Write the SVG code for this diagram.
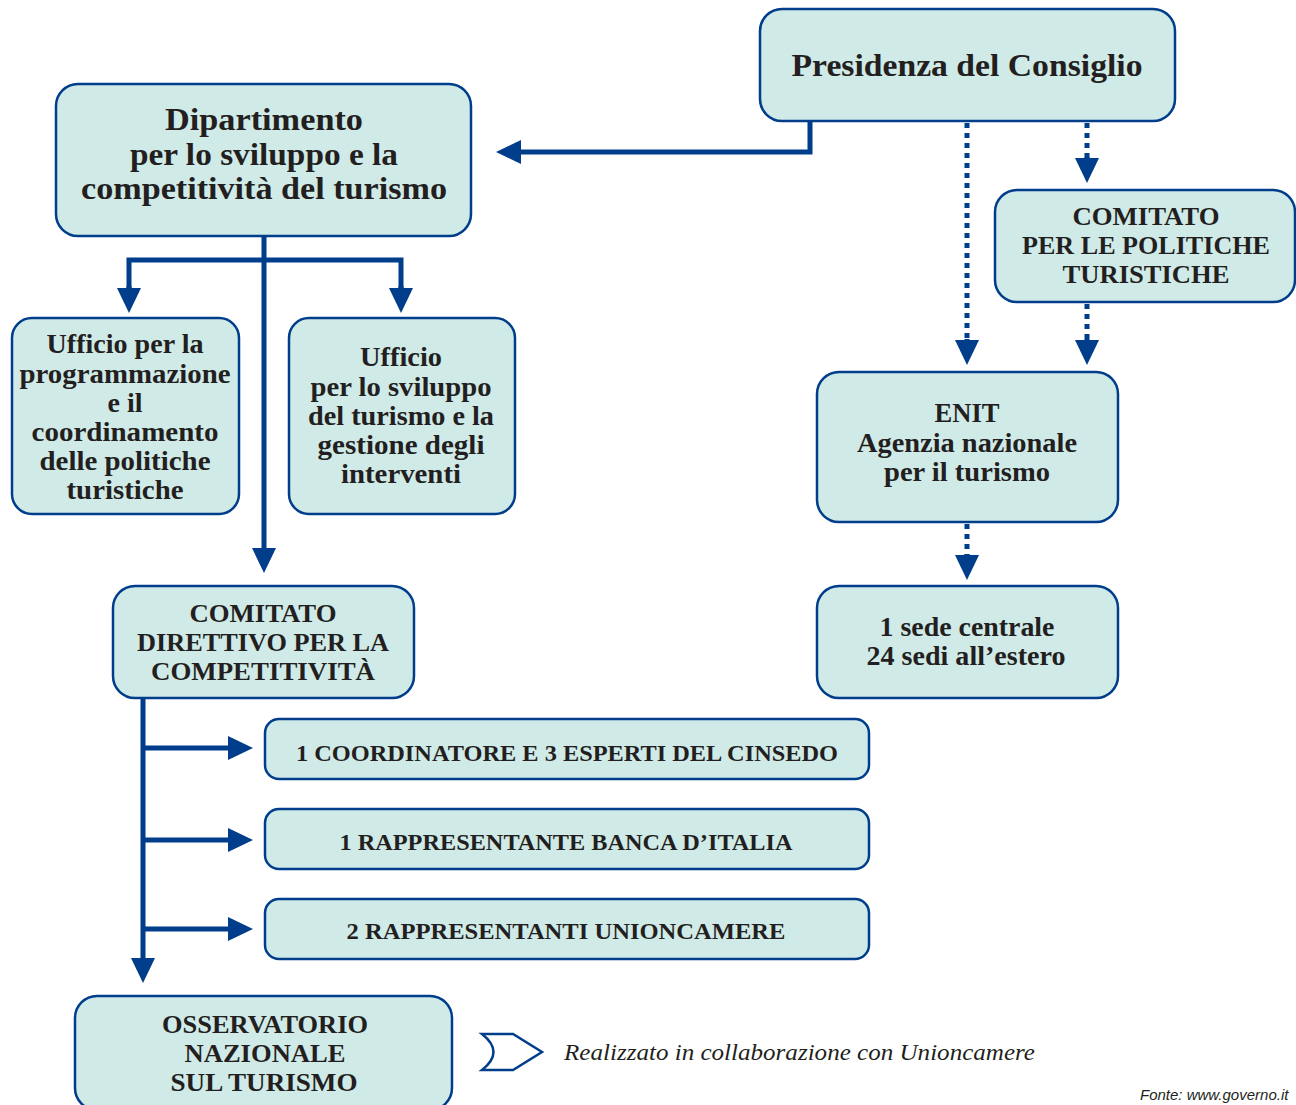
<svg xmlns="http://www.w3.org/2000/svg" width="1296" height="1105" viewBox="0 0 1296 1105">
<style>
.box{fill:#d0eae8;stroke:#003d8a;stroke-width:2.5}
.t{font-family:"Liberation Serif",serif;font-weight:bold;fill:#231f20;text-anchor:middle}
.c{fill:none;stroke:#003d8a;stroke-width:5}
.d{fill:none;stroke:#003d8a;stroke-width:5;stroke-dasharray:5 5}
</style>
<defs>
<marker id="ah" markerUnits="userSpaceOnUse" markerWidth="26" markerHeight="24" refX="0" refY="12" orient="auto" overflow="visible">
<path d="M0,0 L25,12 L0,24 z" fill="#003d8a"/>
</marker>
</defs>
<rect width="1296" height="1105" fill="#fff"/>
<g id="connectors">
<path class="c" d="M810,121 V152 H521" marker-end="url(#ah)"/>
<path class="c" d="M264,236 V548" marker-end="url(#ah)"/>
<path class="c" d="M129,288 V260 H401 V288"/>
<path class="c" d="M129,286 V288" marker-end="url(#ah)"/>
<path class="c" d="M401,286 V288" marker-end="url(#ah)"/>
<path class="d" d="M967,123 V340"/>
<path class="c" d="M967,339 V340" marker-end="url(#ah)"/>
<path class="d" d="M1087,123 V158"/>
<path class="c" d="M1087,157 V158" marker-end="url(#ah)"/>
<path class="d" d="M1087,304 V340"/>
<path class="c" d="M1087,339 V340" marker-end="url(#ah)"/>
<path class="d" d="M967,524 V555"/>
<path class="c" d="M967,554 V555" marker-end="url(#ah)"/>
<path class="c" d="M143,698 V958" marker-end="url(#ah)"/>
<path class="c" d="M143,748 H228" marker-end="url(#ah)"/>
<path class="c" d="M143,840 H228" marker-end="url(#ah)"/>
<path class="c" d="M143,929 H228" marker-end="url(#ah)"/>
</g>
<g id="presidenza">
<rect class="box" x="760" y="9" width="415" height="112" rx="22"/>
<text class="t" x="967" y="76" font-size="32" textLength="351" lengthAdjust="spacingAndGlyphs">Presidenza del Consiglio</text>
</g>
<g id="dipartimento">
<rect class="box" x="56" y="84" width="415" height="152" rx="22"/>
<text class="t" x="264" y="130" font-size="31" textLength="198" lengthAdjust="spacingAndGlyphs">Dipartimento</text>
<text class="t" x="264" y="165" font-size="31" textLength="268" lengthAdjust="spacingAndGlyphs">per lo sviluppo e la</text>
<text class="t" x="264" y="199" font-size="31" textLength="366" lengthAdjust="spacingAndGlyphs">competitività del turismo</text>
</g>
<g id="comitato-politiche">
<rect class="box" x="995" y="190" width="300" height="112" rx="22"/>
<text class="t" x="1146" y="225" font-size="26" textLength="147" lengthAdjust="spacingAndGlyphs">COMITATO</text>
<text class="t" x="1146" y="254" font-size="26" textLength="248" lengthAdjust="spacingAndGlyphs">PER LE POLITICHE</text>
<text class="t" x="1146" y="283" font-size="26" textLength="167" lengthAdjust="spacingAndGlyphs">TURISTICHE</text>
</g>
<g id="enit">
<rect class="box" x="817" y="372" width="301" height="150" rx="22"/>
<text class="t" x="967" y="422" font-size="27" textLength="65" lengthAdjust="spacingAndGlyphs">ENIT</text>
<text class="t" x="967" y="452" font-size="27" textLength="220" lengthAdjust="spacingAndGlyphs">Agenzia nazionale</text>
<text class="t" x="967" y="481" font-size="27" textLength="166" lengthAdjust="spacingAndGlyphs">per il turismo</text>
</g>
<g id="sedi">
<rect class="box" x="817" y="586" width="301" height="112" rx="22"/>
<text class="t" x="967" y="636" font-size="27" textLength="175" lengthAdjust="spacingAndGlyphs">1 sede centrale</text>
<text class="t" x="966" y="665" font-size="27" textLength="199" lengthAdjust="spacingAndGlyphs">24 sedi all’estero</text>
</g>
<g id="ufficio-programmazione">
<rect class="box" x="12" y="318" width="227" height="196" rx="20"/>
<text class="t" x="125" y="353" font-size="27" textLength="157" lengthAdjust="spacingAndGlyphs">Ufficio per la</text>
<text class="t" x="125" y="383" font-size="27" textLength="211" lengthAdjust="spacingAndGlyphs">programmazione</text>
<text class="t" x="125" y="412" font-size="27" textLength="35" lengthAdjust="spacingAndGlyphs">e il</text>
<text class="t" x="125" y="441" font-size="27" textLength="187" lengthAdjust="spacingAndGlyphs">coordinamento</text>
<text class="t" x="125" y="470" font-size="27" textLength="171" lengthAdjust="spacingAndGlyphs">delle politiche</text>
<text class="t" x="125" y="499" font-size="27" textLength="117" lengthAdjust="spacingAndGlyphs">turistiche</text>
</g>
<g id="ufficio-sviluppo">
<rect class="box" x="289" y="318" width="226" height="196" rx="20"/>
<text class="t" x="401" y="366" font-size="27" textLength="82" lengthAdjust="spacingAndGlyphs">Ufficio</text>
<text class="t" x="401" y="396" font-size="27" textLength="181" lengthAdjust="spacingAndGlyphs">per lo sviluppo</text>
<text class="t" x="401" y="425" font-size="27" textLength="186" lengthAdjust="spacingAndGlyphs">del turismo e la</text>
<text class="t" x="401" y="454" font-size="27" textLength="167" lengthAdjust="spacingAndGlyphs">gestione degli</text>
<text class="t" x="401" y="483" font-size="27" textLength="120" lengthAdjust="spacingAndGlyphs">interventi</text>
</g>
<g id="comitato-direttivo">
<rect class="box" x="113" y="586" width="301" height="112" rx="22"/>
<text class="t" x="263" y="622" font-size="26" textLength="147" lengthAdjust="spacingAndGlyphs">COMITATO</text>
<text class="t" x="263" y="651" font-size="26" textLength="252" lengthAdjust="spacingAndGlyphs">DIRETTIVO PER LA</text>
<text class="t" x="263" y="680" font-size="26" textLength="224" lengthAdjust="spacingAndGlyphs">COMPETITIVITÀ</text>
</g>
<g id="coordinatore">
<rect class="box" x="265" y="719" width="604" height="60" rx="14"/>
<text class="t" x="567" y="761" font-size="24" textLength="542" lengthAdjust="spacingAndGlyphs">1 COORDINATORE E 3 ESPERTI DEL CINSEDO</text>
</g>
<g id="banca">
<rect class="box" x="265" y="809" width="604" height="60" rx="14"/>
<text class="t" x="566" y="850" font-size="24" textLength="453" lengthAdjust="spacingAndGlyphs">1 RAPPRESENTANTE BANCA D’ITALIA</text>
</g>
<g id="unioncamere">
<rect class="box" x="265" y="899" width="604" height="60" rx="14"/>
<text class="t" x="566" y="939" font-size="24" textLength="439" lengthAdjust="spacingAndGlyphs">2 RAPPRESENTANTI UNIONCAMERE</text>
</g>
<g id="osservatorio">
<rect class="box" x="75" y="996" width="377" height="114" rx="22"/>
<text class="t" x="265" y="1033" font-size="26" textLength="206" lengthAdjust="spacingAndGlyphs">OSSERVATORIO</text>
<text class="t" x="265" y="1062" font-size="26" textLength="161" lengthAdjust="spacingAndGlyphs">NAZIONALE</text>
<text class="t" x="264" y="1091" font-size="26" textLength="187" lengthAdjust="spacingAndGlyphs">SUL TURISMO</text>
</g>
<g id="legend">
<path d="M482,1034 H513 L542,1052 L513,1070 H482 Q505,1052 482,1034 z" fill="none" stroke="#003d8a" stroke-width="2.5"/>
<text x="564" y="1060" font-family="Liberation Serif,serif" font-style="italic" font-size="24" fill="#231f20" textLength="471" lengthAdjust="spacingAndGlyphs">Realizzato in collaborazione con Unioncamere</text>
<text x="1140" y="1100" font-family="Liberation Sans,sans-serif" font-style="italic" font-size="15" fill="#231f20">Fonte: www.governo.it</text>
</g>
</svg>
